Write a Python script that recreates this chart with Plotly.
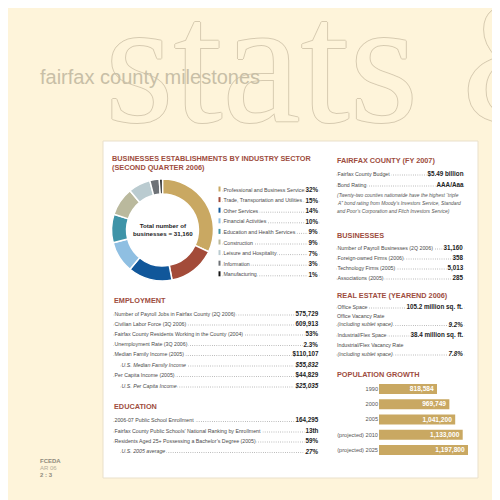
import plotly.graph_objects as go

W = H = 500
BG = "#fef4da"
BROWN = "#9e4d3e"
TXT = "#3c3c3c"
TAN = "#c9a862"
NARROW = "Liberation Sans Narrow, Arial Narrow, Liberation Sans, Arial"
SANS = "Liberation Sans, Arial"

# ---------------- data ----------------
sectors = ["Professional and Business Services", "Trade, Transportation and Utilities",
           "Other Services", "Financial Activities", "Education and Health Services",
           "Construction", "Leisure and Hospitality", "Information", "Manufacturing"]
sector_pct = [32, 15, 14, 10, 9, 9, 7, 3, 1]
sector_colors = ["#c9a862", "#a34b39", "#11579a", "#8fbfe2", "#3f94a8",
                 "#bab99d", "#bacbd0", "#6e7277", "#141414"]
total_businesses = "31,160"

fy_labels = ["Fairfax County Budget", "Bond Rating"]
fy_values = ["$5.49 billion", "AAA/Aaa"]
fy_note = ["(Twenty-two counties nationwide have the highest \u201ctriple",
           "A\u201d bond rating from Moody\u2019s Investors Service, Standard",
           "and Poor\u2019s Corporation and Fitch Investors Service)"]

biz_labels = ["Number of Payroll Businesses (2Q 2006)", "Foreign-owned Firms (2006)",
              "Technology Firms (2005)", "Associations (2005)"]
biz_values = ["31,160", "358", "5,013", "285"]

re_labels = ["Office Space", "Office Vacancy Rate", "Industrial/Flex Space",
             "Industrial/Flex Vacancy Rate"]
re_notes = ["", "(including sublet space)", "", "(including sublet space)"]
re_values = ["105.2 million sq. ft.", "9.2%", "38.4 million sq. ft.", "7.8%"]

emp_labels = ["Number of Payroll Jobs in Fairfax County (2Q 2006)", "Civilian Labor Force (3Q 2006)",
              "Fairfax County Residents Working in the County (2004)", "Unemployment Rate (3Q 2006)",
              "Median Family Income (2005)", "U.S. Median Family Income",
              "Per Capita Income (2005)", "U.S. Per Capita Income"]
emp_values = ["575,729", "609,913", "53%", "2.3%", "$110,107", "$55,832", "$44,829", "$25,035"]
emp_italic = [False, False, False, False, False, True, False, True]

edu_labels = ["2006-07 Public School Enrollment",
              "Fairfax County Public Schools\u2019 National Ranking by Enrollment",
              "Residents Aged 25+ Possessing a Bachelor\u2019s Degree (2005)",
              "U.S. 2005 average"]
edu_values = ["164,295", "13th", "59%", "27%"]
edu_italic = [False, False, False, True]

pop_years = ["1990", "2000", "2005", "(projected) 2010", "(projected) 2025"]
pop_values = [818584, 969749, 1041200, 1133000, 1197800]


def X(p):
    return p / W


def Y(p):
    return 1 - p / H


annotations = []
shapes = []
LS = 5.25   # label font size


def text(x, y, s, size, color=TXT, bold=False, italic=False, anchor="left",
         family=NARROW, bg=None, yanchor="middle", shadow=None, pad=1):
    if bold:
        s = "<b>" + s + "</b>"
    if italic:
        s = "<i>" + s + "</i>"
    font = dict(size=size, color=color, family=family)
    if shadow:
        font["shadow"] = shadow
    a = dict(x=X(x), y=Y(y), xref="paper", yref="paper", text=s, showarrow=False,
             xanchor=anchor, yanchor=yanchor, font=font, borderpad=pad)
    if bg:
        a["bgcolor"] = bg
    annotations.append(a)


def row(xl, xr, y, label, value, italic=False, lsize=LS, vsize=6.3, indent=0):
    shapes.append(dict(type="line", xref="paper", yref="paper", layer="above",
                       x0=X(xl + indent), x1=X(xr), y0=Y(y + 2), y1=Y(y + 2),
                       line=dict(color="#8a8a8a", width=0.7, dash="0.8px,1.4px")))
    text(xl + indent, y, label, lsize, "#4a4a4a", italic=italic, bg="white", pad=0.5)
    text(xr, y, value, vsize, "#222", bold=True, italic=italic, anchor="right",
         family=SANS, bg="white", pad=0.5)


# background header text
text(95, 54, "stats &", 176, BG, family="Liberation Serif, DejaVu Serif", anchor="left",
     shadow="1px 0 0 #d6cab0, -1px 0 0 #d6cab0, 0 1px 0 #d6cab0, 0 -1px 0 #d6cab0")
text(30, 68.5, "fairfax county milestones", 20, "#c8bfa7", family="Liberation Sans, Arial")

# white panel
shapes.append(dict(type="rect", xref="paper", yref="paper", layer="below",
                   x0=X(95), x1=X(470), y0=Y(470), y1=Y(133),
                   fillcolor="white", line=dict(color="#e9e0cb", width=1)))

# footer
text(30, 453, "FCEDA", 6, "#8f8a7c", bold=True, family=SANS)
text(30, 460, "AR 06", 6, "#b4ad9b", family=SANS)
text(30, 467, "2 : 3", 6, "#8f8a7c", bold=True, family=SANS)

# ---- industry sector donut ----
HEAD = 7.3
text(103, 150, "BUSINESSES ESTABLISHMENTS BY INDUSTRY SECTOR", HEAD, BROWN, bold=True, family=SANS, pad=0)
text(103, 159.5, "(SECOND QUARTER 2006)", HEAD, BROWN, bold=True, family=SANS, pad=0)
text(154.5, 221.5, "Total number of<br>businesses = " + total_businesses, 6.2, "#222",
     bold=True, anchor="center")

leg_y0, leg_dy = 181, 10.6
for i, (lab, pct, col) in enumerate(zip(sectors, sector_pct, sector_colors)):
    yy = leg_y0 + i * leg_dy
    shapes.append(dict(type="rect", xref="paper", yref="paper", layer="above",
                       x0=X(210.5), x1=X(212.5), y0=Y(yy + 2.5), y1=Y(yy - 2.5),
                       fillcolor=col, line=dict(width=0)))
    row(214, 312, yy, lab, f"{pct}%")

# ---- employment ----
text(105, 292, "EMPLOYMENT", HEAD, BROWN, bold=True, family=SANS, pad=0)
emp_y = [305, 315, 325, 335.5, 345.5, 356, 366.5, 377]
for lab, val, it, yy in zip(emp_labels, emp_values, emp_italic, emp_y):
    row(105, 312, yy, lab, val, italic=it, indent=7 if it else 0)

# ---- education ----
text(105, 398.5, "EDUCATION", HEAD, BROWN, bold=True, family=SANS, pad=0)
edu_y = [411.5, 422, 432, 442.5]
for lab, val, it, yy in zip(edu_labels, edu_values, edu_italic, edu_y):
    row(105, 312, yy, lab, val, italic=it, indent=7 if it else 0)

# ---- right column ----
RX0, RX1 = 328, 457
text(RX0, 152, "FAIRFAX COUNTY (FY 2007)", HEAD, BROWN, bold=True, family=SANS, pad=0)
for lab, val, yy in zip(fy_labels, fy_values, [165, 176]):
    row(RX0, RX1, yy, lab, val)
for line, yy in zip(fy_note, [187, 195.5, 204]):
    text(RX0, yy, line, 4.9, "#555", italic=True, pad=0)

text(RX0, 228, "BUSINESSES", HEAD, BROWN, bold=True, family=SANS, pad=0)
for lab, val, yy in zip(biz_labels, biz_values, [239, 249, 259, 269]):
    row(RX0, RX1, yy, lab, val)

text(RX0, 287.5, "REAL ESTATE (YEAREND 2006)", HEAD, BROWN, bold=True, family=SANS, pad=0)
re_y = [(298, None), (308, 315.5), (326, None), (337, 345)]
for lab, note, val, (y1, y2) in zip(re_labels, re_notes, re_values, re_y):
    if note:
        text(RX0, y1, lab, LS, "#4a4a4a", pad=0)
        row(RX0, RX1, y2, note, val, italic=True)
    else:
        row(RX0, RX1, y1, lab, val)

text(RX0, 366, "POPULATION GROWTH", HEAD, BROWN, bold=True, family=SANS, pad=0)

fig = go.Figure()
fig.add_trace(go.Pie(
    values=sector_pct, labels=sectors, sort=False, direction="clockwise", rotation=0,
    hole=0.705, textinfo="none", hoverinfo="skip", showlegend=False,
    marker=dict(colors=sector_colors, line=dict(color="white", width=1.5)),
    domain=dict(x=[X(103), X(206)], y=[Y(273), Y(171)])))

fig.add_trace(go.Bar(
    x=pop_values, y=pop_years, orientation="h", marker=dict(color=TAN, line=dict(width=0)),
    text=[f"{v:,}" for v in pop_values], texttemplate="<b>%{text}</b>",
    textposition="inside", insidetextanchor="end",
    textfont=dict(color="white", size=6.6, family=SANS), hoverinfo="skip",
    showlegend=False))

fig.update_layout(
    width=W, height=H, margin=dict(l=0, r=0, t=0, b=0, autoexpand=False),
    paper_bgcolor=BG, plot_bgcolor="rgba(0,0,0,0)", showlegend=False,
    bargap=0.34, uniformtext=dict(mode="show", minsize=6.6),
    xaxis=dict(domain=[X(371), X(470)], range=[109100, 1320150], visible=False, fixedrange=True),
    yaxis=dict(domain=[Y(449.6), Y(373.4)], autorange="reversed", showgrid=False,
               zeroline=False, showline=False, ticks="", fixedrange=True,
               tickfont=dict(size=5.6, color="#555", family=NARROW)),
    annotations=annotations, shapes=shapes)

fig.write_html("out.html")
